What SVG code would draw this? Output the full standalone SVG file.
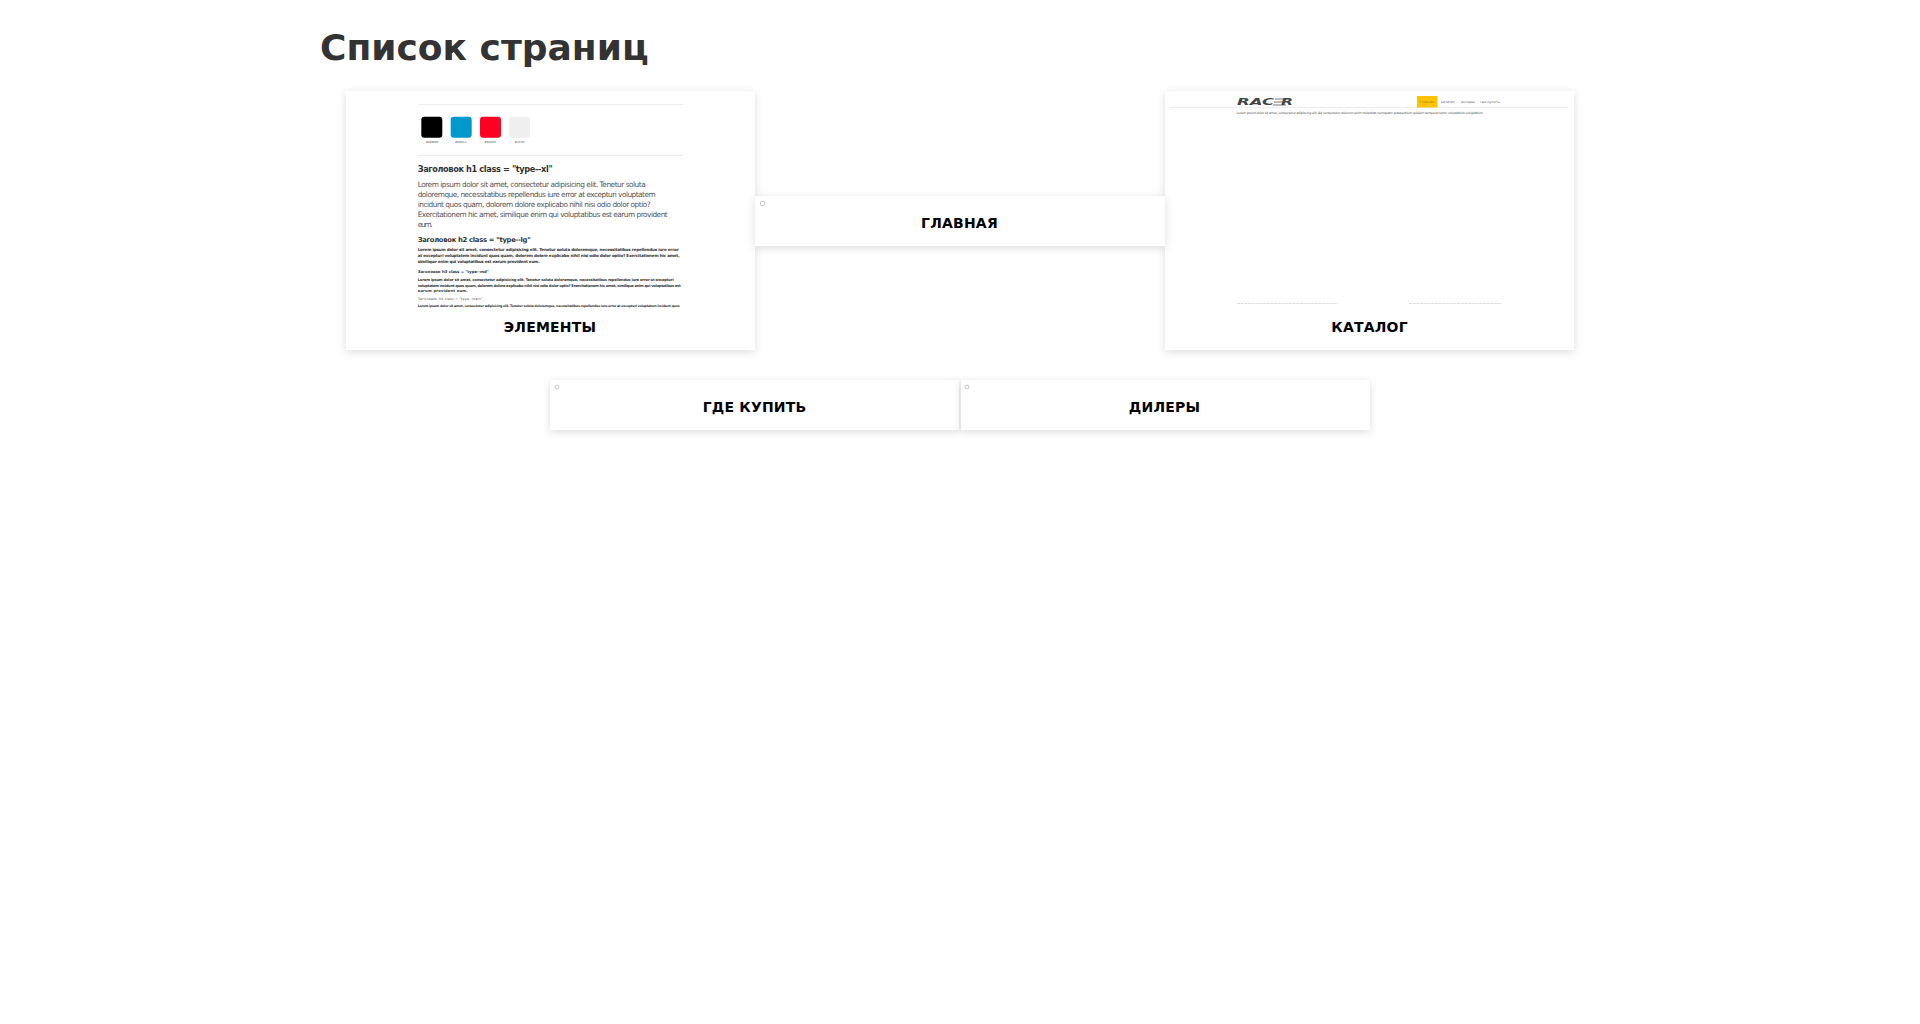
<svg xmlns="http://www.w3.org/2000/svg" width="1920" height="1024" viewBox="0 0 1920 1024">
<style>
text{font-family:"DejaVu Sans","Liberation Sans",sans-serif}
.card{fill:#fff;filter:url(#sh)}
.lbl{font-size:14px;font-weight:700;fill:#000;text-anchor:middle;letter-spacing:.2px}
.dot{fill:#fff;stroke:#c4c4c0;stroke-width:1}
.rule{stroke:#eee;stroke-width:1}
.h{font-weight:700;fill:#333}
.p{fill:#555}
.b{fill:#333;font-weight:700}
.n{font-size:3.4px;fill:#666}
.sw{font-size:2.7px;fill:#444;text-anchor:middle}
</style>
<defs>
<filter id="sh" x="-10%" y="-30%" width="120%" height="170%">
<feDropShadow dx="0" dy="2" stdDeviation="4" flood-color="#000" flood-opacity=".14"/>
</filter>
</defs>
<rect width="1920" height="1024" fill="#fff"/>
<text x="320" y="60" font-size="36" font-weight="700" fill="#333">Список страниц</text>

<g id="node-elements">
<rect class="card" x="346" y="91" width="409" height="259"/>
<line class="rule" x1="417.7" y1="104.5" x2="683" y2="104.5"/>
<rect x="421.3" y="116.7" width="21" height="21" rx="3" fill="#000"/>
<rect x="450.7" y="116.7" width="21" height="21" rx="3" fill="#0099cc"/>
<rect x="480" y="116.7" width="21" height="21" rx="3" fill="#ff0022"/>
<rect x="509" y="116.7" width="21" height="21" rx="3" fill="#efefef"/>
<text class="sw" x="432" y="143">#000000</text>
<text class="sw" x="461" y="143">#0091cc</text>
<text class="sw" x="490" y="143">#f20d33</text>
<text class="sw" x="519.5" y="143">#efefef</text>
<line class="rule" x1="417.7" y1="155.5" x2="683" y2="155.5"/>
<text class="h" x="417.7" y="171.7" font-size="8.2" textLength="135">Заголовок h1 class = "type--xl"</text>
<g class="p" font-size="7.4">
<text x="417.7" y="187.3" textLength="228">Lorem ipsum dolor sit amet, consectetur adipisicing elit. Tenetur soluta</text>
<text x="417.7" y="197.3" textLength="238">doloremque, necessitatibus repellendus iure error at excepturi voluptatem</text>
<text x="417.7" y="207.3" textLength="233">incidunt quos quam, dolorem dolore explicabo nihil nisi odio dolor optio?</text>
<text x="417.7" y="217.3" textLength="250">Exercitationem hic amet, similique enim qui voluptatibus est earum provident</text>
<text x="417.7" y="227.3" textLength="15">eum.</text>
</g>
<text class="h" x="417.7" y="242" font-size="6.8" textLength="113">Заголовок h2 class = "type--lg"</text>
<g class="b" font-size="4.1">
<text x="417.7" y="251" textLength="261">Lorem ipsum dolor sit amet, consectetur adipisicing elit. Tenetur soluta doloremque, necessitatibus repellendus iure error</text>
<text x="417.7" y="257" textLength="262">at excepturi voluptatem incidunt quos quam, dolorem dolore explicabo nihil nisi odio dolor optio? Exercitationem hic amet,</text>
<text x="417.7" y="263" textLength="122">similique enim qui voluptatibus est earum provident eum.</text>
</g>
<text class="h" x="417.7" y="273" font-size="3.9" textLength="71">Заголовок h3 class = "type--md"</text>
<g class="b" font-size="3.7">
<text x="417.7" y="281" textLength="256">Lorem ipsum dolor sit amet, consectetur adipisicing elit. Tenetur soluta doloremque, necessitatibus repellendus iure error at excepturi</text>
<text x="417.7" y="286.5" textLength="263">voluptatem incidunt quos quam, dolorem dolore explicabo nihil nisi odio dolor optio? Exercitationem hic amet, similique enim qui voluptatibus est</text>
<text x="417.7" y="292" textLength="50">earum provident eum.</text>
</g>
<text class="p" x="417.7" y="300" font-size="3.4" textLength="65">Заголовок h4 class = "type--main"</text>
<text class="b" x="417.7" y="307" font-size="3.3" textLength="262">Lorem ipsum dolor sit amet, consectetur adipisicing elit. Tenetur soluta doloremque, necessitatibus repellendus iure error at excepturi voluptatem incidunt quos</text>
<text class="lbl" x="550" y="332">ЭЛЕМЕНТЫ</text>
</g>

<g id="node-catalog">
<rect class="card" x="1165" y="91" width="409" height="259"/>
<line class="rule" x1="1170" y1="107.5" x2="1569" y2="107.5"/>
<text x="1237" y="105.3" font-size="9.5" font-weight="700" font-style="italic" fill="#444" textLength="37" lengthAdjust="spacingAndGlyphs">RAC</text>
<path d="M1275 99h13M1274 102h10M1273 105h13" stroke="#777" stroke-width="1.1" fill="none"/>
<text x="1281" y="105.3" font-size="9.5" font-weight="700" font-style="italic" fill="#444" textLength="12" lengthAdjust="spacingAndGlyphs">R</text>
<rect x="1417" y="96" width="20.500" height="11.500" fill="#ffc400"/>
<text class="n" x="1419.500" y="103" fill="#8a7a20" style="fill:#9a8320">Главная</text>
<text class="n" x="1441" y="103">каталог</text>
<text class="n" x="1461" y="103">дилеры</text>
<text class="n" x="1480" y="103">где купить</text>
<text x="1236.500" y="114" font-size="3.3" fill="#555" textLength="247">Lorem ipsum dolor sit amet, consectetur adipiscing elit. Ad consectetur dolorum enim molestias numquam praesentium quidem tempora nemo voluptatum voluptatum.</text>
<path d="M1237 303.500h101M1409 303.500h93" stroke="#ddd" stroke-width="1" stroke-dasharray="3 .7" fill="none"/>
<text class="lbl" x="1369.500" y="332">КАТАЛОГ</text>
</g>

<g id="node-main">
<rect class="card" x="755" y="196" width="410" height="50"/>
<rect class="dot" x="760.500" y="201.500" width="4" height="4" rx="1"/>
<text class="lbl" x="959.500" y="228">ГЛАВНАЯ</text>
</g>

<g id="node-where">
<rect class="card" x="550" y="380" width="409" height="50"/>
<rect class="dot" x="555" y="385" width="4" height="4" rx="2"/>
<text class="lbl" x="754.500" y="412">ГДЕ КУПИТЬ</text>
</g>

<g id="node-dealers">
<rect class="card" x="961" y="380" width="409" height="50"/>
<rect class="dot" x="965" y="385" width="4" height="4" rx="2"/>
<text class="lbl" x="1164.500" y="412">ДИЛЕРЫ</text>
</g>

<g id="connectors"/>
</svg>
